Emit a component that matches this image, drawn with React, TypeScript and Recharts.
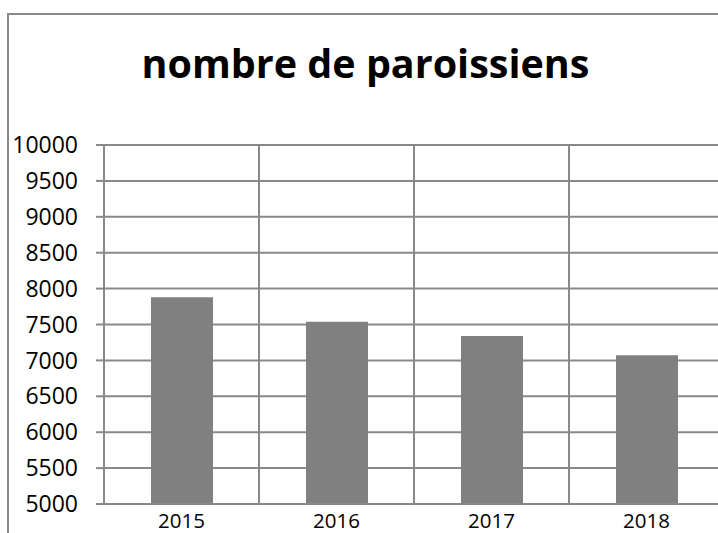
import { Bar, BarChart, CartesianGrid, XAxis, YAxis } from "recharts";

const years = ["2015", "2016", "2017", "2018"];
const paroissiens = [7880, 7540, 7340, 7070];
const yTicks = [5000, 5500, 6000, 6500, 7000, 7500, 8000, 8500, 9000, 9500, 10000];

const data = years.map((year, i) => ({ year, value: paroissiens[i] }));

const line = "#898989";
const font = "'Open Sans', sans-serif";

export default function App() {
  return (
    <div
      style={{
        position: "absolute",
        left: 0,
        top: 0,
        width: 718,
        height: 533,
        overflow: "hidden",
        background: "#fff",
        fontFamily: font,
      }}
    >
      <div
        style={{
          position: "absolute",
          left: 7,
          top: 13,
          width: 800,
          height: 600,
          borderLeft: `2px solid ${line}`,
          borderTop: `2px solid ${line}`,
        }}
      />
      <div
        style={{
          position: "absolute",
          left: 0,
          width: 731,
          top: 38,
          textAlign: "center",
          fontSize: 39.5,
          fontWeight: 700,
          color: "#000",
          lineHeight: "50px",
          whiteSpace: "nowrap",
        }}
      >
        nombre de paroissiens
      </div>
      <div style={{ position: "absolute", left: 0, top: 0 }}>
        <BarChart
          width={740}
          height={533}
          data={data}
          margin={{ top: 145, right: 16, left: 0, bottom: 0 }}
        >
          <CartesianGrid
            stroke={line}
            strokeWidth={2}
            verticalCoordinatesGenerator={({ offset }: any) =>
              [0, 1, 2, 3, 4].map((i) => offset.left + (i * offset.width) / 4)
            }
          />
          <XAxis
            dataKey="year"
            height={29}
            tickLine={false}
            tickSize={0}
            tickMargin={9}
            axisLine={{ stroke: line, strokeWidth: 2 }}
            tick={{ fill: "#000", fontSize: 20.5, fontFamily: font }}
          />
          <YAxis
            width={104}
            domain={[5000, 10000]}
            ticks={yTicks}
            allowDataOverflow
            interval={0}
            tickSize={8}
            tickMargin={18}
            tickLine={{ stroke: line, strokeWidth: 2 }}
            axisLine={{ stroke: line, strokeWidth: 2 }}
            tick={{ fill: "#000", fontSize: 23, fontFamily: font }}
          />
          <Bar dataKey="value" fill="#808080" barSize={62} isAnimationActive={false} />
        </BarChart>
      </div>
    </div>
  );
}
